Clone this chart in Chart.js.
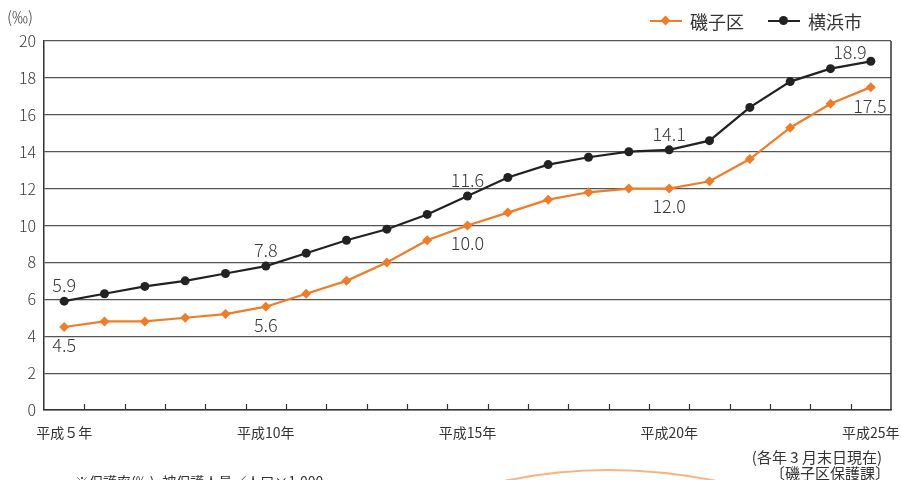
<!DOCTYPE html>
<html lang="ja">
<head>
<meta charset="utf-8">
<script src="https://cdn.jsdelivr.net/npm/chart.js@4/dist/chart.umd.min.js"></script>
<style>
  html, body { margin: 0; padding: 0; background: #fff; }
  body { width: 901px; height: 480px; overflow: hidden; position: relative;
    font-family: "Noto Sans CJK JP", "Noto Sans", sans-serif; color: #333; }
  #c { position: absolute; left: 0; top: 0; }
  .txt { position: absolute; white-space: nowrap; line-height: 1; }
  .leg { position: absolute; top: 11px; height: 20px; font-size: 18px; line-height: 20px; }
  .leg .ln { position: absolute; top: 9px; width: 32px; height: 2px; }
  .leg .mk { position: absolute; }
  .leg span { position: absolute; left: 40px; top: 0; white-space: nowrap; }
</style>
</head>
<body>
<canvas id="c" width="901" height="480"></canvas>

<div class="txt" style="left:7px;top:8px;font-size:16px;font-weight:300;">(‰)</div>

<div class="leg" style="left:650px;">
  <div class="ln" style="background:#F07C27;"></div>
  <div class="mk" style="left:12px;top:6px;width:7px;height:7px;background:#F07C27;transform:rotate(45deg);"></div>
  <span>磯子区</span>
</div>
<div class="leg" style="left:768px;">
  <div class="ln" style="background:#222;"></div>
  <div class="mk" style="left:11px;top:5px;width:9px;height:9px;border-radius:50%;background:#222;"></div>
  <span>横浜市</span>
</div>

<div class="txt" style="right:19px;top:449px;font-size:15px;">(各年 3 月末日現在)</div>
<div class="txt" style="right:11px;top:465px;font-size:15px;">〔磯子区保護課〕</div>
<div class="txt" style="left:75px;top:474px;font-size:14px;">※保護率(‰)=被保護人員／人口×1,000</div>

<svg style="position:absolute;left:0;top:0;" width="901" height="480">
  <path d="M 500 482 Q 606 458 722 482" fill="none" stroke="#F7B47E" stroke-width="2"/>
</svg>

<script>
// 平成5年〜平成25年 (各年3月末日現在)
const YEARS = ['平成５年', '平成6年', '平成7年', '平成8年', '平成9年', '平成10年', '平成11年',
  '平成12年', '平成13年', '平成14年', '平成15年', '平成16年', '平成17年', '平成18年',
  '平成19年', '平成20年', '平成21年', '平成22年', '平成23年', '平成24年', '平成25年'];

// 保護率 (‰)
const ISOGO = [4.5, 4.8, 4.8, 5.0, 5.2, 5.6, 6.3, 7.0, 8.0, 9.2, 10.0,
  10.7, 11.4, 11.8, 12.0, 12.0, 12.4, 13.6, 15.3, 16.6, 17.5];
const YOKOHAMA = [5.9, 6.3, 6.7, 7.0, 7.4, 7.8, 8.5, 9.2, 9.8, 10.6, 11.6,
  12.6, 13.3, 13.7, 14.0, 14.1, 14.6, 16.4, 17.8, 18.5, 18.9];

// which points get a value label, which years get a tick label
const LABEL_IDX = [0, 5, 10, 15, 20];
const Y_TICKS = [0, 2, 4, 6, 8, 10, 12, 14, 16, 18, 20];

const ORANGE = '#F07C27';
const BLACK = '#222222';
const FONT = '"Noto Sans CJK JP", "Noto Sans", sans-serif';

// small inward tick marks between years + right frame line
const framePlugin = {
  id: 'frame',
  afterDraw(chart) {
    const { ctx, chartArea: a, scales: { x } } = chart;
    ctx.save();
    ctx.strokeStyle = '#333';
    ctx.lineWidth = 1.2;
    ctx.beginPath();
    for (let i = 1; i < YEARS.length; i++) {
      const px = Math.round((x.getPixelForValue(i - 1) + x.getPixelForValue(i)) / 2) + 0.5;
      ctx.moveTo(px, a.bottom - 6);
      ctx.lineTo(px, a.bottom);
    }
    ctx.stroke();
    ctx.lineWidth = 1.5;
    ctx.beginPath();
    ctx.moveTo(a.right, a.top);
    ctx.lineTo(a.right, a.bottom);
    ctx.stroke();
    ctx.restore();
  }
};

// value labels near selected points
const valuePlugin = {
  id: 'values',
  afterDatasetsDraw(chart) {
    const { ctx } = chart;
    ctx.save();
    ctx.font = '300 18px ' + FONT;
    ctx.fillStyle = '#3a3a3a';
    ctx.textAlign = 'center';
    ctx.textBaseline = 'middle';
    chart.data.datasets.forEach((ds, di) => {
      const meta = chart.getDatasetMeta(di);
      LABEL_IDX.forEach(i => {
        const pt = meta.data[i];
        let dx = 0, dy = di === 0 ? 18 : -16;
        if (i === YEARS.length - 1) {
          if (di === 1) { dx = -21; dy = -9; } else { dx = -1; dy = 19; }
        }
        ctx.fillText(ds.data[i].toFixed(1), pt.x + dx, pt.y + dy);
      });
    });
    ctx.restore();
  }
};

new Chart(document.getElementById('c'), {
  type: 'line',
  data: {
    labels: YEARS,
    datasets: [
      {
        label: '磯子区', data: ISOGO, borderColor: ORANGE, backgroundColor: ORANGE,
        borderWidth: 2.2, pointStyle: 'rectRot', pointRadius: 5, pointBorderWidth: 0,
        tension: 0
      },
      {
        label: '横浜市', data: YOKOHAMA, borderColor: BLACK, backgroundColor: BLACK,
        borderWidth: 2.2, pointStyle: 'circle', pointRadius: 4.5, pointBorderWidth: 0,
        tension: 0
      }
    ]
  },
  options: {
    responsive: false,
    animation: false,
    events: [],
    layout: { padding: { top: 41, right: 10, left: 0, bottom: 0 } },
    plugins: { legend: { display: false }, tooltip: { enabled: false } },
    scales: {
      x: {
        type: 'category',
        offset: true,
        grid: { display: true, drawOnChartArea: false, drawTicks: false },
        border: { color: '#333', width: 1.5 },
        ticks: {
          autoSkip: false, maxRotation: 0, padding: 14, color: '#333',
          font: { family: FONT, size: 14 },
          callback: (v, i) => (i % 5 === 0 ? YEARS[i] : '')
        },
        afterFit(s) { s.height = 70; s.paddingLeft = 0; s.paddingRight = 0; }
      },
      y: {
        min: 0, max: 20,
        afterBuildTicks(s) { s.ticks = Y_TICKS.map(v => ({ value: v })); },
        grid: { color: '#555', lineWidth: 1.2, drawTicks: false },
        border: { color: '#333', width: 1.5 },
        ticks: {
          padding: 8, color: '#3a3a3a',
          font: { family: FONT, size: 16, weight: 300 }
        },
        afterFit(s) { s.width = 44; }
      }
    }
  },
  plugins: [framePlugin, valuePlugin]
});
</script>
</body>
</html>
